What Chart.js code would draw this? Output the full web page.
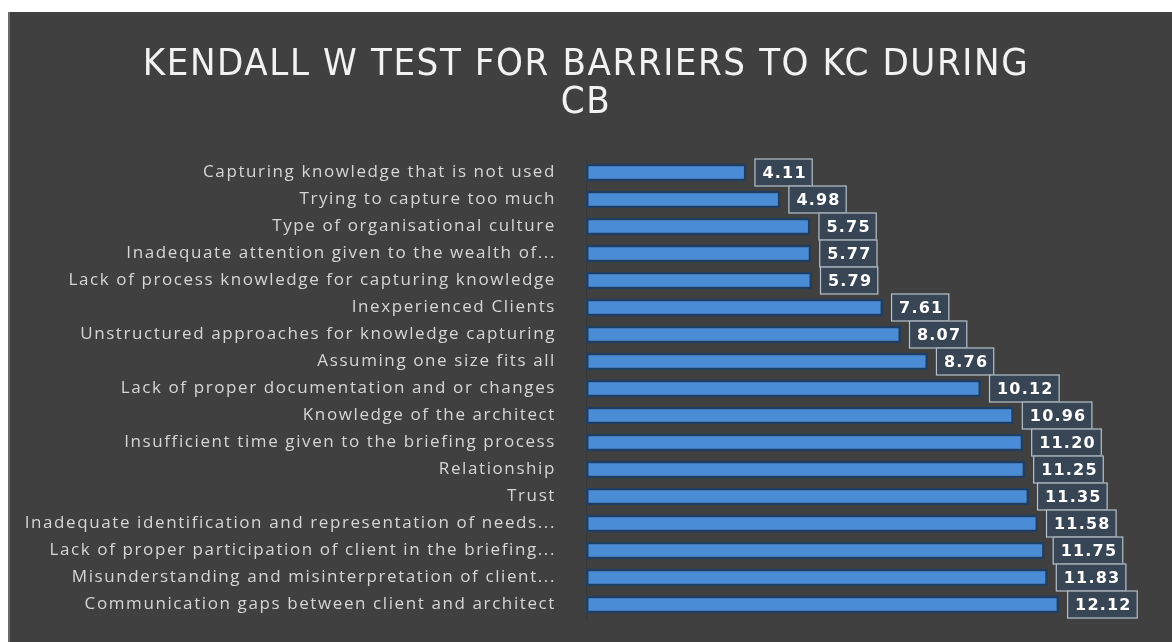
<!DOCTYPE html>
<html>
<head>
<meta charset="utf-8">
<script src="https://cdn.jsdelivr.net/npm/chart.js@4.4.1/dist/chart.umd.min.js"></script>
<style>
  html, body { margin: 0; padding: 0; background: #ffffff; }
  #panel {
    position: absolute;
    left: 8px; top: 12px;
    width: 1162px; height: 630px;
    background: #404040;
    border-left: 2px solid #6b6b6b;
  }
  #chart { display: block; }
</style>
</head>
<body>
<div id="panel"><canvas id="chart" width="1162" height="630"></canvas></div>
<script>
// Barriers, listed top to bottom, and their Kendall W mean ranks
const barriers = [
    "Capturing knowledge that is not used",
    "Trying to capture too much",
    "Type of organisational culture",
    "Inadequate attention given to the wealth of...",
    "Lack of process knowledge for capturing knowledge",
    "Inexperienced Clients",
    "Unstructured approaches for knowledge capturing",
    "Assuming one size fits all",
    "Lack of proper documentation and or changes",
    "Knowledge of the architect",
    "Insufficient time given to the briefing process",
    "Relationship",
    "Trust",
    "Inadequate identification and representation of needs...",
    "Lack of proper participation of client in the briefing...",
    "Misunderstanding and misinterpretation of client...",
    "Communication gaps between client and architect",
];
const meanRanks = [4.11, 4.98, 5.75, 5.77, 5.79, 7.61, 8.07, 8.76, 10.12, 10.96, 11.20, 11.25, 11.35, 11.58, 11.75, 11.83, 12.12];

const titleLines = ["KENDALL W TEST FOR BARRIERS TO KC DURING", "CB"];

// wider tracking for the axis text, like the original office chart
const spacing = {
    id: "spacing",
    beforeDraw(chart) {
        chart.ctx.letterSpacing = "1.6px";
    },
};

// boxed value label at the end of each bar
const valueBoxes = {
    id: "valueBoxes",
    afterDatasetsDraw(chart) {
        const ctx = chart.ctx;
        const meta = chart.getDatasetMeta(0);
        ctx.save();
        ctx.font = "bold 16px 'DejaVu Sans'";
        ctx.letterSpacing = "1.2px";
        ctx.textBaseline = "middle";
        ctx.textAlign = "left";
        meta.data.forEach((bar, i) => {
            const txt = meanRanks[i].toFixed(2);
            const w = ctx.measureText(txt).width + 14;
            const h = 28;
            const x = bar.x + 8;
            const y = bar.y - h / 2;
            ctx.fillStyle = "rgba(55, 70, 86, 0.95)";
            ctx.fillRect(x, y, w, h);
            ctx.strokeStyle = "#b7c1c9";
            ctx.lineWidth = 1.2;
            ctx.strokeRect(x + 0.5, y + 0.5, w - 1, h - 1);
            ctx.fillStyle = "#ffffff";
            ctx.fillText(txt, x + 8, bar.y + 1);
        });
        ctx.restore();
    },
};

new Chart(document.getElementById("chart"), {
    type: "bar",
    plugins: [spacing, valueBoxes],
    data: {
        labels: barriers,
        datasets: [{
            data: meanRanks,
            backgroundColor: "#4b8cd6",
            borderColor: "#1d3f66",
            borderWidth: 2.5,
            borderSkipped: false,
            barPercentage: 0.64,
            categoryPercentage: 1,
        }],
    },
    options: {
        indexAxis: "y",
        responsive: false,
        animation: false,
        layout: { padding: { top: 10, left: 10, right: 20, bottom: 24 } },
        plugins: {
            legend: { display: false },
            tooltip: { enabled: false },
            title: {
                display: true,
                text: titleLines,
                color: "#f2f2f2",
                font: { family: "'DejaVu Sans Condensed', sans-serif", size: 38, weight: "normal", lineHeight: 1.0 },
                padding: { top: 24, bottom: 37 },
            },
        },
        scales: {
            x: {
                display: false,
                min: 0,
                max: 14.5,
            },
            y: {
                afterFit(scale) { scale.width = 566; },
                grid: { display: false, drawTicks: true, tickLength: 26 },
                border: { display: true, color: "#363636", width: 1 },
                ticks: {
                    color: "#d6d6d6",
                    padding: 4,
                    autoSkip: false,
                    font: { family: "'Open Sans'", size: 17 },
                },
            },
        },
    },
});
</script>
</body>
</html>
